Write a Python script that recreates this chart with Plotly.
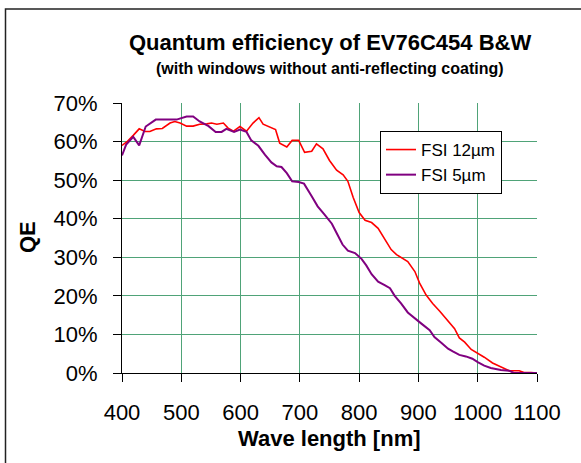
import plotly.graph_objects as go

# FSI 12µm (red)
wl_12 = [400, 408, 419, 429, 439, 447, 458, 468, 481, 489, 498, 509, 520, 531, 543, 551, 560,
         571, 579, 588, 599, 610, 621, 631, 638, 649, 659, 666, 678, 687, 698, 708, 720, 728,
         739, 750, 762, 773, 781, 790, 800, 810, 821, 832, 843, 854, 863, 871, 882, 894, 902,
         913, 924, 936, 947, 961, 969, 978, 989, 1000, 1011, 1025, 1039, 1053, 1070, 1078,
         1090, 1100]
qe_12 = [59.0, 59.9, 61.6, 63.3, 62.6, 62.6, 63.3, 63.4, 64.8, 65.2, 64.8, 64.0, 64.0, 64.5,
         64.6, 64.8, 64.5, 64.8, 63.5, 62.7, 63.9, 62.7, 64.8, 66.2, 64.5, 63.8, 63.1, 59.6,
         58.6, 60.3, 60.3, 57.2, 57.5, 59.4, 58.1, 55.1, 52.6, 51.4, 49.7, 45.5, 41.6, 39.6,
         39.0, 37.5, 34.6, 32.0, 30.7, 30.0, 28.9, 26.3, 23.3, 20.2, 18.0, 16.0, 14.1, 11.5,
         9.1, 8.0, 6.1, 5.2, 4.1, 2.6, 1.5, 0.6, 0.6, 0.1, 0.1, 0.0]

# FSI 5µm (purple)
wl_5 = [400, 407, 419, 429, 440, 457, 470, 492, 509, 520, 531, 546, 558, 568, 576, 589, 599,
        610, 618, 630, 641, 652, 661, 669, 678, 687, 698, 707, 720, 730, 741, 754, 762, 772,
        781, 793, 804, 812, 821, 832, 843, 852, 860, 871, 882, 894, 905, 919, 927, 939, 950,
        958, 969, 980, 991, 1000, 1011, 1022, 1039, 1053, 1061, 1100]
qe_5 = [56.4, 59.2, 61.2, 59.0, 63.9, 65.7, 65.7, 65.7, 66.5, 66.5, 65.2, 64.0, 62.5, 62.5,
        63.3, 62.5, 63.1, 62.5, 60.3, 58.9, 56.6, 54.6, 53.6, 53.4, 51.8, 49.7, 49.5, 49.1,
        45.8, 43.2, 41.2, 38.7, 36.3, 33.3, 31.7, 31.1, 29.6, 27.9, 25.6, 23.7, 22.8, 22.0,
        20.0, 18.0, 15.7, 14.1, 12.8, 11.1, 9.3, 7.8, 6.3, 5.6, 4.7, 4.3, 3.7, 2.8, 1.9, 1.3,
        0.8, 0.6, 0.0, 0.0]

x_ticks = [400, 500, 600, 700, 800, 900, 1000, 1100]
y_ticks = [0, 10, 20, 30, 40, 50, 60, 70]
y_ticklabels = [f"{v}%" for v in y_ticks]

FONT = "Liberation Sans, Arial, sans-serif"
GRID = "#4fa378"

fig = go.Figure()
fig.add_trace(go.Scatter(x=wl_12, y=qe_12, mode="lines", name="FSI 12µm",
                         line=dict(color="#ff0000", width=1.6)))
fig.add_trace(go.Scatter(x=wl_5, y=qe_5, mode="lines", name="FSI 5µm",
                         line=dict(color="#800080", width=2)))

W, H = 581, 463
L, R, T, B = 122, 44, 103, 90
pw, ph = W - L - R, H - T - B

def px_x(p):
    return (p - L) / pw

def px_y(p):
    return (H - B - p) / ph

fig.update_layout(
    width=W, height=H,
    margin=dict(l=L, r=R, t=T, b=B, pad=0),
    paper_bgcolor="white", plot_bgcolor="white",
    font=dict(family=FONT, color="black"),
    showlegend=True,
    legend=dict(x=px_x(380), y=px_y(131), xanchor="left", yanchor="top",
                bgcolor="white", bordercolor="black", borderwidth=1,
                font=dict(size=17, family=FONT), itemwidth=30,
                tracegroupgap=0),
    xaxis=dict(range=[400, 1100], tickvals=x_ticks, ticktext=[str(v) for v in x_ticks],
               showgrid=True, gridcolor=GRID, gridwidth=1,
               showline=True, linecolor="black", linewidth=1, mirror=False,
               ticks="outside", ticklen=8, tickcolor="black", tickwidth=1,
               tickfont=dict(size=22, family=FONT), ticklabelstandoff=12,
               zeroline=False, fixedrange=True),
    yaxis=dict(range=[0, 70], tickvals=y_ticks, ticktext=y_ticklabels,
               showgrid=True, gridcolor=GRID, gridwidth=1,
               showline=True, linecolor="black", linewidth=1, mirror=False,
               ticks="outside", ticklen=8, tickcolor="black", tickwidth=1,
               tickfont=dict(size=22, family=FONT), ticklabelstandoff=11,
               zeroline=False, fixedrange=True),
    shapes=[
        dict(type="rect", xref="paper", yref="paper",
             x0=px_x(5.5), x1=px_x(600), y0=px_y(480), y1=px_y(9),
             line=dict(color="#222222", width=1.5), fillcolor="rgba(0,0,0,0)", layer="below"),
    ],
    annotations=[
        dict(text="<b>Quantum efficiency of EV76C454 B&W</b>", xref="paper", yref="paper",
             x=0.5, y=px_y(42), xanchor="center", yanchor="middle", showarrow=False,
             font=dict(size=22, family=FONT)),
        dict(text="<b>(with windows without anti-reflecting coating)</b>", xref="paper", yref="paper",
             x=0.5, y=px_y(69), xanchor="center", yanchor="middle", showarrow=False,
             font=dict(size=16, family=FONT)),
        dict(text="<b>Wave length [nm]</b>", xref="paper", yref="paper",
             x=0.5, y=px_y(438), xanchor="center", yanchor="middle", showarrow=False,
             font=dict(size=22, family=FONT)),
        dict(text="<b>QE</b>", xref="paper", yref="paper", textangle=-90,
             x=px_x(27), y=px_y(237), xanchor="center", yanchor="middle", showarrow=False,
             font=dict(size=22, family=FONT)),
    ],
)

fig.write_html("out.html", config={"displayModeBar": False},
               post_script="document.body.style.margin='0';")
